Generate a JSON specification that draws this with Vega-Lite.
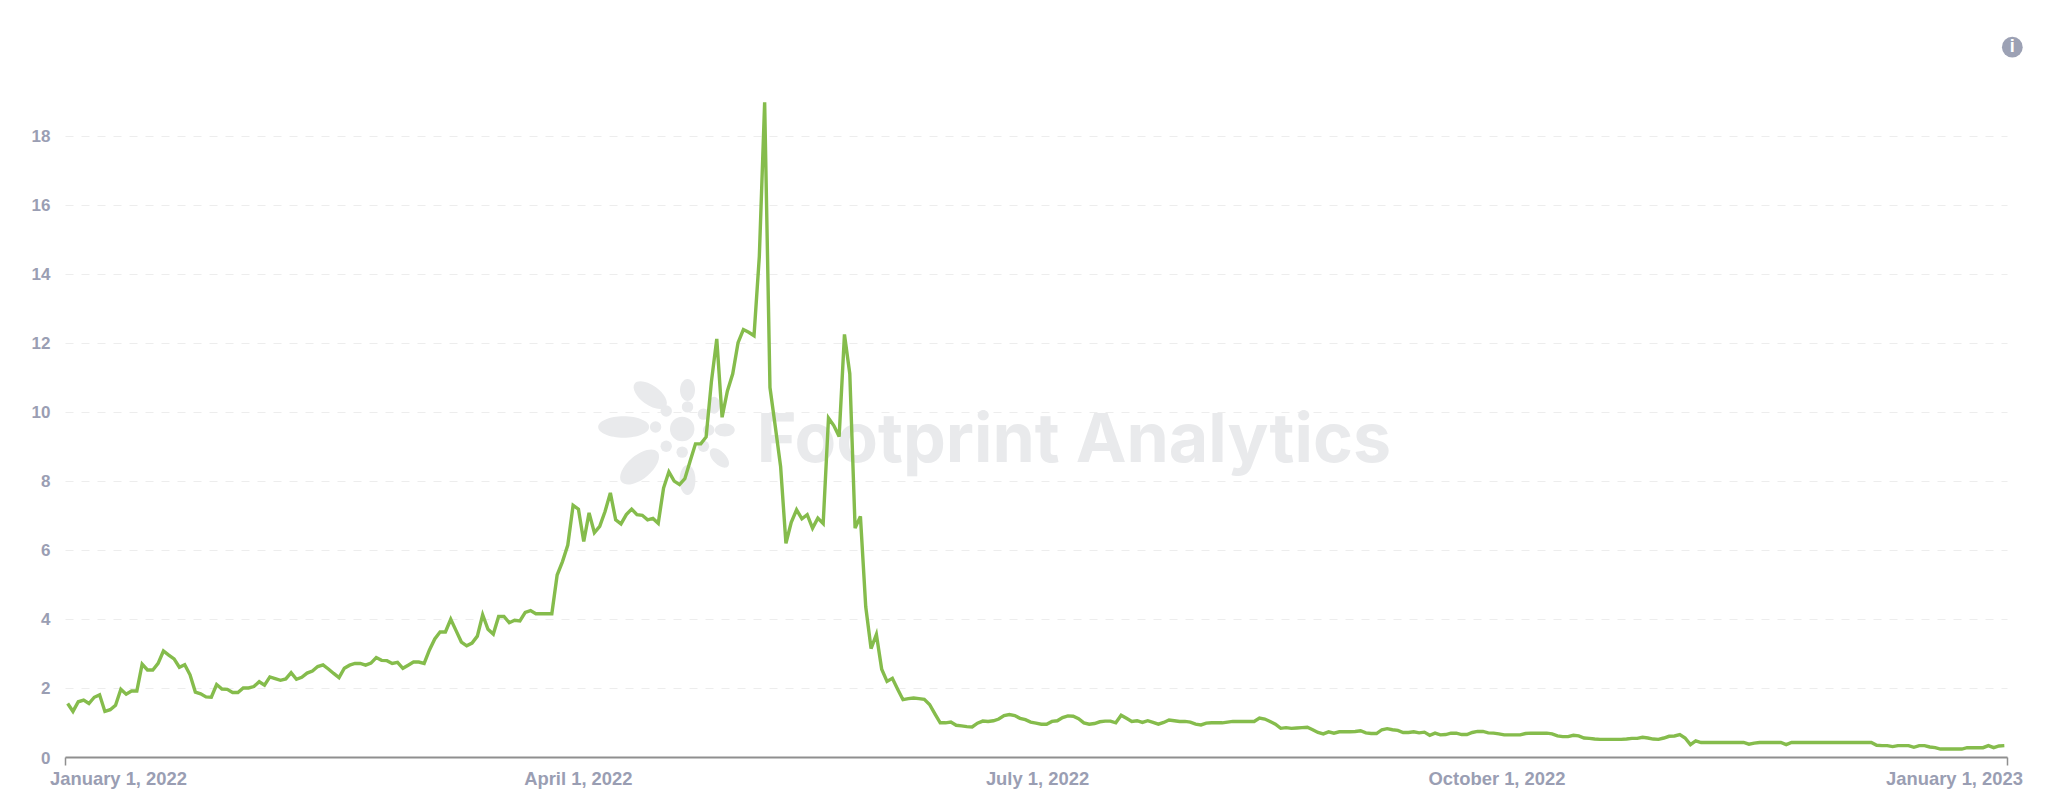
{"$schema":"https://vega.github.io/schema/vega-lite/v6.json","autosize":"none","width":1942,"height":656,"padding":{"left":65,"top":101,"right":41,"bottom":48},"background":"#ffffff","view":{"stroke":null},
"encoding":{"x":{"field":"date","type":"temporal","scale":{"domain":[{"year":2022,"month":1,"date":1},{"year":2023,"month":1,"date":1}],"nice":false},"axis":{"title":null,"grid":false,"values":[{"year":2022,"month":1,"date":1},{"year":2022,"month":4,"date":1},{"year":2022,"month":7,"date":1},{"year":2022,"month":10,"date":1},{"year":2023,"month":1,"date":1}],"format":"%B %-d, %Y","domainColor":"#8f8f8f","domainWidth":2,"tickColor":"#8f8f8f","tickWidth":1.5,"tickSize":8,"tickOpacity":{"condition":{"test":"month(datum.value)==0","value":1},"value":0},"labelColor":"#9a9eb3","labelFont":"Liberation Sans","labelFontWeight":"bold","labelFontSize":18.4,"labelPadding":4,"labelOverlap":false,"labelBound":false,"labelFlush":false,"labelAlign":"center","labelOffset":{"condition":[{"test":"year(datum.value)==2023","value":-53},{"test":"month(datum.value)==0","value":53},{"test":"month(datum.value)==3","value":34},{"test":"month(datum.value)==6","value":9},{"test":"month(datum.value)==9","value":-21}],"value":0}}},
"y":{"field":"value","type":"quantitative","scale":{"domain":[0,19],"nice":false,"zero":true},"axis":{"title":null,"values":[0,2,4,6,8,10,12,14,16,18],"domain":false,"ticks":false,"grid":true,"gridColor":"#ededed","gridDash":[8,8],"gridWidth":1,"labelColor":"#9a9eb3","labelFont":"Liberation Sans","labelFontWeight":"bold","labelFontSize":17,"labelPadding":15,"labelOffset":1,"labelOverlap":false,"labelBound":false,"labelFlush":false}}},
"layer":[
{"data":{"values":[{"date":"2022-04-16","value":9.56}]},"mark":{"type":"point","filled":true,"opacity":1,"color":"#e9eaec","shape":"M-1,0A1,0.42,0,1,1,1,0A1,0.42,0,1,1,-1,0Z","size":2600,"angle":0}},
{"data":{"values":[{"date":"2022-04-21","value":10.48}]},"mark":{"type":"point","filled":true,"opacity":1,"color":"#e9eaec","shape":"M-1,0A1,0.5,0,1,1,1,0A1,0.5,0,1,1,-1,0Z","size":1500,"angle":36}},
{"data":{"values":[{"date":"2022-04-19","value":8.4}]},"mark":{"type":"point","filled":true,"opacity":1,"color":"#e9eaec","shape":"M-1,0A1,0.5,0,1,1,1,0A1,0.5,0,1,1,-1,0Z","size":2200,"angle":-40}},
{"data":{"values":[{"date":"2022-04-28","value":8.02}]},"mark":{"type":"point","filled":true,"opacity":1,"color":"#e9eaec","shape":"M-1,0A1,0.53,0,1,1,1,0A1,0.53,0,1,1,-1,0Z","size":900,"angle":90}},
{"data":{"values":[{"date":"2022-05-04","value":8.66}]},"mark":{"type":"point","filled":true,"opacity":1,"color":"#e9eaec","shape":"M-1,0A1,0.54,0,1,1,1,0A1,0.54,0,1,1,-1,0Z","size":576,"angle":45}},
{"data":{"values":[{"date":"2022-04-28","value":10.63}]},"mark":{"type":"point","filled":true,"opacity":1,"color":"#e9eaec","shape":"M-1,0A1,0.68,0,1,1,1,0A1,0.68,0,1,1,-1,0Z","size":484,"angle":90}},
{"data":{"values":[{"date":"2022-05-05","value":9.47}]},"mark":{"type":"point","filled":true,"opacity":1,"color":"#e9eaec","shape":"M-1,0A1,0.65,0,1,1,1,0A1,0.65,0,1,1,-1,0Z","size":400,"angle":0}},
{"data":{"values":[{"date":"2022-05-03","value":10.19}]},"mark":{"type":"point","filled":true,"opacity":1,"color":"#e9eaec","shape":"M-1,0A1,0.7,0,1,1,1,0A1,0.7,0,1,1,-1,0Z","size":289,"angle":90}},
{"data":{"values":[{"date":"2022-04-22","value":9.56},{"date":"2022-04-24","value":10.02},{"date":"2022-04-28","value":10.14},{"date":"2022-05-01","value":9.93},{"date":"2022-05-02","value":9.47},{"date":"2022-05-01","value":9.0},{"date":"2022-04-27","value":8.83},{"date":"2022-04-24","value":9.0}]},"mark":{"type":"point","filled":true,"opacity":1,"color":"#e9eaec","shape":"circle","size":130}},
{"data":{"values":[{"date":"2022-04-27","value":9.5}]},"mark":{"type":"point","filled":true,"opacity":1,"color":"#e9eaec","shape":"circle","size":600}},
{"data":{"values":[{"date":"2022-05-11","value":9.12,"label":"Footprint Analytics"}]},"mark":{"type":"text","align":"left","baseline":"middle","font":"Inter","fontWeight":"bold","fontSize":68,"color":"#e9eaec"},"encoding":{"text":{"field":"label"}}},
{"data":{"values":[
{"date":"2022-01-01T12:00","value":1.55},{"date":"2022-01-02T12:00","value":1.32},{"date":"2022-01-03T12:00","value":1.6},{"date":"2022-01-04T12:00","value":1.65},{"date":"2022-01-05T12:00","value":1.55},{"date":"2022-01-06T12:00","value":1.73},{"date":"2022-01-07T12:00","value":1.8},{"date":"2022-01-08T12:00","value":1.32},{"date":"2022-01-09T12:00","value":1.37},{"date":"2022-01-10T12:00","value":1.5},{"date":"2022-01-11T12:00","value":1.96},{"date":"2022-01-12T12:00","value":1.82},{"date":"2022-01-13T12:00","value":1.91},{"date":"2022-01-14T12:00","value":1.91},{"date":"2022-01-15T12:00","value":2.69},{"date":"2022-01-16T12:00","value":2.52},{"date":"2022-01-17T12:00","value":2.52},{"date":"2022-01-18T12:00","value":2.71},{"date":"2022-01-19T12:00","value":3.07},{"date":"2022-01-20T12:00","value":2.95},{"date":"2022-01-21T12:00","value":2.84},{"date":"2022-01-22T12:00","value":2.6},{"date":"2022-01-23T12:00","value":2.67},{"date":"2022-01-24T12:00","value":2.38},{"date":"2022-01-25T12:00","value":1.88},{"date":"2022-01-26T12:00","value":1.83},{"date":"2022-01-27T12:00","value":1.74},{"date":"2022-01-28T12:00","value":1.73},{"date":"2022-01-29T12:00","value":2.1},{"date":"2022-01-30T12:00","value":1.97},{"date":"2022-01-31T12:00","value":1.96},
{"date":"2022-02-01T12:00","value":1.87},{"date":"2022-02-02T12:00","value":1.87},{"date":"2022-02-03T12:00","value":2.0},{"date":"2022-02-04T12:00","value":2.0},{"date":"2022-02-05T12:00","value":2.04},{"date":"2022-02-06T12:00","value":2.18},{"date":"2022-02-07T12:00","value":2.08},{"date":"2022-02-08T12:00","value":2.32},{"date":"2022-02-09T12:00","value":2.27},{"date":"2022-02-10T12:00","value":2.22},{"date":"2022-02-11T12:00","value":2.26},{"date":"2022-02-12T12:00","value":2.44},{"date":"2022-02-13T12:00","value":2.25},{"date":"2022-02-14T12:00","value":2.31},{"date":"2022-02-15T12:00","value":2.43},{"date":"2022-02-16T12:00","value":2.49},{"date":"2022-02-17T12:00","value":2.62},{"date":"2022-02-18T12:00","value":2.67},{"date":"2022-02-19T12:00","value":2.55},{"date":"2022-02-20T12:00","value":2.42},{"date":"2022-02-21T12:00","value":2.3},{"date":"2022-02-22T12:00","value":2.57},{"date":"2022-02-23T12:00","value":2.66},{"date":"2022-02-24T12:00","value":2.71},{"date":"2022-02-25T12:00","value":2.71},{"date":"2022-02-26T12:00","value":2.66},{"date":"2022-02-27T12:00","value":2.72},{"date":"2022-02-28T12:00","value":2.88},
{"date":"2022-03-01T12:00","value":2.8},{"date":"2022-03-02T12:00","value":2.79},{"date":"2022-03-03T12:00","value":2.71},{"date":"2022-03-04T12:00","value":2.74},{"date":"2022-03-05T12:00","value":2.57},{"date":"2022-03-06T12:00","value":2.66},{"date":"2022-03-07T12:00","value":2.75},{"date":"2022-03-08T12:00","value":2.75},{"date":"2022-03-09T12:00","value":2.71},{"date":"2022-03-10T12:00","value":3.1},{"date":"2022-03-11T12:00","value":3.42},{"date":"2022-03-12T12:00","value":3.62},{"date":"2022-03-13T12:00","value":3.62},{"date":"2022-03-14T12:00","value":3.99},{"date":"2022-03-15T12:00","value":3.66},{"date":"2022-03-16T12:00","value":3.33},{"date":"2022-03-17T12:00","value":3.22},{"date":"2022-03-18T12:00","value":3.3},{"date":"2022-03-19T12:00","value":3.5},{"date":"2022-03-20T12:00","value":4.12},{"date":"2022-03-21T12:00","value":3.7},{"date":"2022-03-22T12:00","value":3.56},{"date":"2022-03-23T12:00","value":4.07},{"date":"2022-03-24T12:00","value":4.07},{"date":"2022-03-25T12:00","value":3.89},{"date":"2022-03-26T12:00","value":3.96},{"date":"2022-03-27T12:00","value":3.94},{"date":"2022-03-28T12:00","value":4.19},{"date":"2022-03-29T12:00","value":4.24},{"date":"2022-03-30T12:00","value":4.15},{"date":"2022-03-31T12:00","value":4.15},
{"date":"2022-04-01T12:00","value":4.15},{"date":"2022-04-02T12:00","value":4.15},{"date":"2022-04-03T12:00","value":5.27},{"date":"2022-04-04T12:00","value":5.66},{"date":"2022-04-05T12:00","value":6.14},{"date":"2022-04-06T12:00","value":7.29},{"date":"2022-04-07T12:00","value":7.18},{"date":"2022-04-08T12:00","value":6.24},{"date":"2022-04-09T12:00","value":7.07},{"date":"2022-04-10T12:00","value":6.5},{"date":"2022-04-11T12:00","value":6.68},{"date":"2022-04-12T12:00","value":7.11},{"date":"2022-04-13T12:00","value":7.65},{"date":"2022-04-14T12:00","value":6.87},{"date":"2022-04-15T12:00","value":6.75},{"date":"2022-04-16T12:00","value":7.02},{"date":"2022-04-17T12:00","value":7.18},{"date":"2022-04-18T12:00","value":7.02},{"date":"2022-04-19T12:00","value":7.0},{"date":"2022-04-20T12:00","value":6.87},{"date":"2022-04-21T12:00","value":6.91},{"date":"2022-04-22T12:00","value":6.77},{"date":"2022-04-23T12:00","value":7.79},{"date":"2022-04-24T12:00","value":8.26},{"date":"2022-04-25T12:00","value":7.99},{"date":"2022-04-26T12:00","value":7.89},{"date":"2022-04-27T12:00","value":8.06},{"date":"2022-04-28T12:00","value":8.57},{"date":"2022-04-29T12:00","value":9.07},{"date":"2022-04-30T12:00","value":9.07},
{"date":"2022-05-01T12:00","value":9.27},{"date":"2022-05-02T12:00","value":10.88},{"date":"2022-05-03T12:00","value":12.11},{"date":"2022-05-04T12:00","value":9.84},{"date":"2022-05-05T12:00","value":10.6},{"date":"2022-05-06T12:00","value":11.1},{"date":"2022-05-07T12:00","value":12.0},{"date":"2022-05-08T12:00","value":12.38},{"date":"2022-05-09T12:00","value":12.3},{"date":"2022-05-10T12:00","value":12.2},{"date":"2022-05-11T12:00","value":14.5},{"date":"2022-05-12T12:00","value":18.96},{"date":"2022-05-13T12:00","value":10.7},{"date":"2022-05-14T12:00","value":9.57},{"date":"2022-05-15T12:00","value":8.41},{"date":"2022-05-16T12:00","value":6.19},{"date":"2022-05-17T12:00","value":6.8},{"date":"2022-05-18T12:00","value":7.16},{"date":"2022-05-19T12:00","value":6.9},{"date":"2022-05-20T12:00","value":7.02},{"date":"2022-05-21T12:00","value":6.63},{"date":"2022-05-22T12:00","value":6.92},{"date":"2022-05-23T12:00","value":6.76},{"date":"2022-05-24T12:00","value":9.82},{"date":"2022-05-25T12:00","value":9.6},{"date":"2022-05-26T12:00","value":9.28},{"date":"2022-05-27T12:00","value":12.24},{"date":"2022-05-28T12:00","value":11.1},{"date":"2022-05-29T12:00","value":6.63},{"date":"2022-05-30T12:00","value":6.97},{"date":"2022-05-31T12:00","value":4.35},
{"date":"2022-06-01T12:00","value":3.14},{"date":"2022-06-02T12:00","value":3.55},{"date":"2022-06-03T12:00","value":2.54},{"date":"2022-06-04T12:00","value":2.19},{"date":"2022-06-05T12:00","value":2.28},{"date":"2022-06-06T12:00","value":1.96},{"date":"2022-06-07T12:00","value":1.66},{"date":"2022-06-08T12:00","value":1.69},{"date":"2022-06-09T12:00","value":1.71},{"date":"2022-06-10T12:00","value":1.69},{"date":"2022-06-11T12:00","value":1.67},{"date":"2022-06-12T12:00","value":1.52},{"date":"2022-06-13T12:00","value":1.25},{"date":"2022-06-14T12:00","value":0.99},{"date":"2022-06-15T12:00","value":0.99},{"date":"2022-06-16T12:00","value":1.01},{"date":"2022-06-17T12:00","value":0.92},{"date":"2022-06-18T12:00","value":0.9},{"date":"2022-06-19T12:00","value":0.88},{"date":"2022-06-20T12:00","value":0.87},{"date":"2022-06-21T12:00","value":0.98},{"date":"2022-06-22T12:00","value":1.04},{"date":"2022-06-23T12:00","value":1.03},{"date":"2022-06-24T12:00","value":1.05},{"date":"2022-06-25T12:00","value":1.1},{"date":"2022-06-26T12:00","value":1.2},{"date":"2022-06-27T12:00","value":1.23},{"date":"2022-06-28T12:00","value":1.2},{"date":"2022-06-29T12:00","value":1.12},{"date":"2022-06-30T12:00","value":1.08},
{"date":"2022-07-01T12:00","value":1.01},{"date":"2022-07-02T12:00","value":0.98},{"date":"2022-07-03T12:00","value":0.95},{"date":"2022-07-04T12:00","value":0.95},{"date":"2022-07-05T12:00","value":1.03},{"date":"2022-07-06T12:00","value":1.05},{"date":"2022-07-07T12:00","value":1.14},{"date":"2022-07-08T12:00","value":1.19},{"date":"2022-07-09T12:00","value":1.18},{"date":"2022-07-10T12:00","value":1.11},{"date":"2022-07-11T12:00","value":0.99},{"date":"2022-07-12T12:00","value":0.95},{"date":"2022-07-13T12:00","value":0.97},{"date":"2022-07-14T12:00","value":1.02},{"date":"2022-07-15T12:00","value":1.04},{"date":"2022-07-16T12:00","value":1.04},{"date":"2022-07-17T12:00","value":0.99},{"date":"2022-07-18T12:00","value":1.21},{"date":"2022-07-19T12:00","value":1.12},{"date":"2022-07-20T12:00","value":1.03},{"date":"2022-07-21T12:00","value":1.05},{"date":"2022-07-22T12:00","value":1.0},{"date":"2022-07-23T12:00","value":1.05},{"date":"2022-07-24T12:00","value":1.0},{"date":"2022-07-25T12:00","value":0.95},{"date":"2022-07-26T12:00","value":1.0},{"date":"2022-07-27T12:00","value":1.07},{"date":"2022-07-28T12:00","value":1.05},{"date":"2022-07-29T12:00","value":1.03},{"date":"2022-07-30T12:00","value":1.03},{"date":"2022-07-31T12:00","value":1.01},
{"date":"2022-08-01T12:00","value":0.95},{"date":"2022-08-02T12:00","value":0.93},{"date":"2022-08-03T12:00","value":0.98},{"date":"2022-08-04T12:00","value":0.99},{"date":"2022-08-05T12:00","value":0.99},{"date":"2022-08-06T12:00","value":0.99},{"date":"2022-08-07T12:00","value":1.01},{"date":"2022-08-08T12:00","value":1.03},{"date":"2022-08-09T12:00","value":1.03},{"date":"2022-08-10T12:00","value":1.03},{"date":"2022-08-11T12:00","value":1.03},{"date":"2022-08-12T12:00","value":1.03},{"date":"2022-08-13T12:00","value":1.13},{"date":"2022-08-14T12:00","value":1.1},{"date":"2022-08-15T12:00","value":1.03},{"date":"2022-08-16T12:00","value":0.95},{"date":"2022-08-17T12:00","value":0.83},{"date":"2022-08-18T12:00","value":0.85},{"date":"2022-08-19T12:00","value":0.83},{"date":"2022-08-20T12:00","value":0.84},{"date":"2022-08-21T12:00","value":0.85},{"date":"2022-08-22T12:00","value":0.86},{"date":"2022-08-23T12:00","value":0.79},{"date":"2022-08-24T12:00","value":0.71},{"date":"2022-08-25T12:00","value":0.67},{"date":"2022-08-26T12:00","value":0.73},{"date":"2022-08-27T12:00","value":0.69},{"date":"2022-08-28T12:00","value":0.73},{"date":"2022-08-29T12:00","value":0.73},{"date":"2022-08-30T12:00","value":0.73},{"date":"2022-08-31T12:00","value":0.74},
{"date":"2022-09-01T12:00","value":0.76},{"date":"2022-09-02T12:00","value":0.7},{"date":"2022-09-03T12:00","value":0.68},{"date":"2022-09-04T12:00","value":0.68},{"date":"2022-09-05T12:00","value":0.79},{"date":"2022-09-06T12:00","value":0.82},{"date":"2022-09-07T12:00","value":0.79},{"date":"2022-09-08T12:00","value":0.77},{"date":"2022-09-09T12:00","value":0.71},{"date":"2022-09-10T12:00","value":0.71},{"date":"2022-09-11T12:00","value":0.73},{"date":"2022-09-12T12:00","value":0.7},{"date":"2022-09-13T12:00","value":0.72},{"date":"2022-09-14T12:00","value":0.63},{"date":"2022-09-15T12:00","value":0.69},{"date":"2022-09-16T12:00","value":0.64},{"date":"2022-09-17T12:00","value":0.65},{"date":"2022-09-18T12:00","value":0.69},{"date":"2022-09-19T12:00","value":0.69},{"date":"2022-09-20T12:00","value":0.65},{"date":"2022-09-21T12:00","value":0.65},{"date":"2022-09-22T12:00","value":0.71},{"date":"2022-09-23T12:00","value":0.74},{"date":"2022-09-24T12:00","value":0.74},{"date":"2022-09-25T12:00","value":0.7},{"date":"2022-09-26T12:00","value":0.69},{"date":"2022-09-27T12:00","value":0.67},{"date":"2022-09-28T12:00","value":0.64},{"date":"2022-09-29T12:00","value":0.64},{"date":"2022-09-30T12:00","value":0.64},
{"date":"2022-10-01T12:00","value":0.64},{"date":"2022-10-02T12:00","value":0.68},{"date":"2022-10-03T12:00","value":0.69},{"date":"2022-10-04T12:00","value":0.69},{"date":"2022-10-05T12:00","value":0.69},{"date":"2022-10-06T12:00","value":0.69},{"date":"2022-10-07T12:00","value":0.67},{"date":"2022-10-08T12:00","value":0.61},{"date":"2022-10-09T12:00","value":0.59},{"date":"2022-10-10T12:00","value":0.59},{"date":"2022-10-11T12:00","value":0.63},{"date":"2022-10-12T12:00","value":0.61},{"date":"2022-10-13T12:00","value":0.55},{"date":"2022-10-14T12:00","value":0.54},{"date":"2022-10-15T12:00","value":0.52},{"date":"2022-10-16T12:00","value":0.51},{"date":"2022-10-17T12:00","value":0.51},{"date":"2022-10-18T12:00","value":0.51},{"date":"2022-10-19T12:00","value":0.51},{"date":"2022-10-20T12:00","value":0.51},{"date":"2022-10-21T12:00","value":0.52},{"date":"2022-10-22T12:00","value":0.54},{"date":"2022-10-23T12:00","value":0.54},{"date":"2022-10-24T12:00","value":0.57},{"date":"2022-10-25T12:00","value":0.55},{"date":"2022-10-26T12:00","value":0.52},{"date":"2022-10-27T12:00","value":0.51},{"date":"2022-10-28T12:00","value":0.55},{"date":"2022-10-29T12:00","value":0.6},{"date":"2022-10-30T12:00","value":0.61},{"date":"2022-10-31T12:00","value":0.65},
{"date":"2022-11-01T12:00","value":0.55},{"date":"2022-11-02T12:00","value":0.36},{"date":"2022-11-03T12:00","value":0.47},{"date":"2022-11-04T12:00","value":0.42},{"date":"2022-11-05T12:00","value":0.42},{"date":"2022-11-06T12:00","value":0.42},{"date":"2022-11-07T12:00","value":0.42},{"date":"2022-11-08T12:00","value":0.42},{"date":"2022-11-09T12:00","value":0.42},{"date":"2022-11-10T12:00","value":0.42},{"date":"2022-11-11T12:00","value":0.42},{"date":"2022-11-12T12:00","value":0.42},{"date":"2022-11-13T12:00","value":0.37},{"date":"2022-11-14T12:00","value":0.4},{"date":"2022-11-15T12:00","value":0.42},{"date":"2022-11-16T12:00","value":0.42},{"date":"2022-11-17T12:00","value":0.42},{"date":"2022-11-18T12:00","value":0.42},{"date":"2022-11-19T12:00","value":0.42},{"date":"2022-11-20T12:00","value":0.36},{"date":"2022-11-21T12:00","value":0.42},{"date":"2022-11-22T12:00","value":0.42},{"date":"2022-11-23T12:00","value":0.42},{"date":"2022-11-24T12:00","value":0.42},{"date":"2022-11-25T12:00","value":0.42},{"date":"2022-11-26T12:00","value":0.42},{"date":"2022-11-27T12:00","value":0.42},{"date":"2022-11-28T12:00","value":0.42},{"date":"2022-11-29T12:00","value":0.42},{"date":"2022-11-30T12:00","value":0.42},
{"date":"2022-12-01T12:00","value":0.42},{"date":"2022-12-02T12:00","value":0.42},{"date":"2022-12-03T12:00","value":0.42},{"date":"2022-12-04T12:00","value":0.42},{"date":"2022-12-05T12:00","value":0.42},{"date":"2022-12-06T12:00","value":0.42},{"date":"2022-12-07T12:00","value":0.34},{"date":"2022-12-08T12:00","value":0.33},{"date":"2022-12-09T12:00","value":0.33},{"date":"2022-12-10T12:00","value":0.3},{"date":"2022-12-11T12:00","value":0.33},{"date":"2022-12-12T12:00","value":0.33},{"date":"2022-12-13T12:00","value":0.33},{"date":"2022-12-14T12:00","value":0.28},{"date":"2022-12-15T12:00","value":0.33},{"date":"2022-12-16T12:00","value":0.33},{"date":"2022-12-17T12:00","value":0.29},{"date":"2022-12-18T12:00","value":0.27},{"date":"2022-12-19T12:00","value":0.23},{"date":"2022-12-20T12:00","value":0.23},{"date":"2022-12-21T12:00","value":0.23},{"date":"2022-12-22T12:00","value":0.23},{"date":"2022-12-23T12:00","value":0.23},{"date":"2022-12-24T12:00","value":0.27},{"date":"2022-12-25T12:00","value":0.27},{"date":"2022-12-26T12:00","value":0.27},{"date":"2022-12-27T12:00","value":0.27},{"date":"2022-12-28T12:00","value":0.33},{"date":"2022-12-29T12:00","value":0.27},{"date":"2022-12-30T12:00","value":0.32},{"date":"2022-12-31T12:00","value":0.33}
]},"mark":{"type":"line","color":"#85bc4c","strokeWidth":3.4,"interpolate":"linear"}},
{"data":{"values":[{"date":"2023-01-02","value":20.56}]},"mark":{"type":"point","filled":true,"opacity":1,"color":"#9ca1b4","shape":"circle","size":430}},
{"data":{"values":[{"date":"2023-01-02","value":20.56,"label":"i"}]},"mark":{"type":"text","align":"center","baseline":"middle","font":"Liberation Sans","fontWeight":"bold","fontSize":18,"color":"#ffffff"},"encoding":{"text":{"field":"label"}}}
]}
